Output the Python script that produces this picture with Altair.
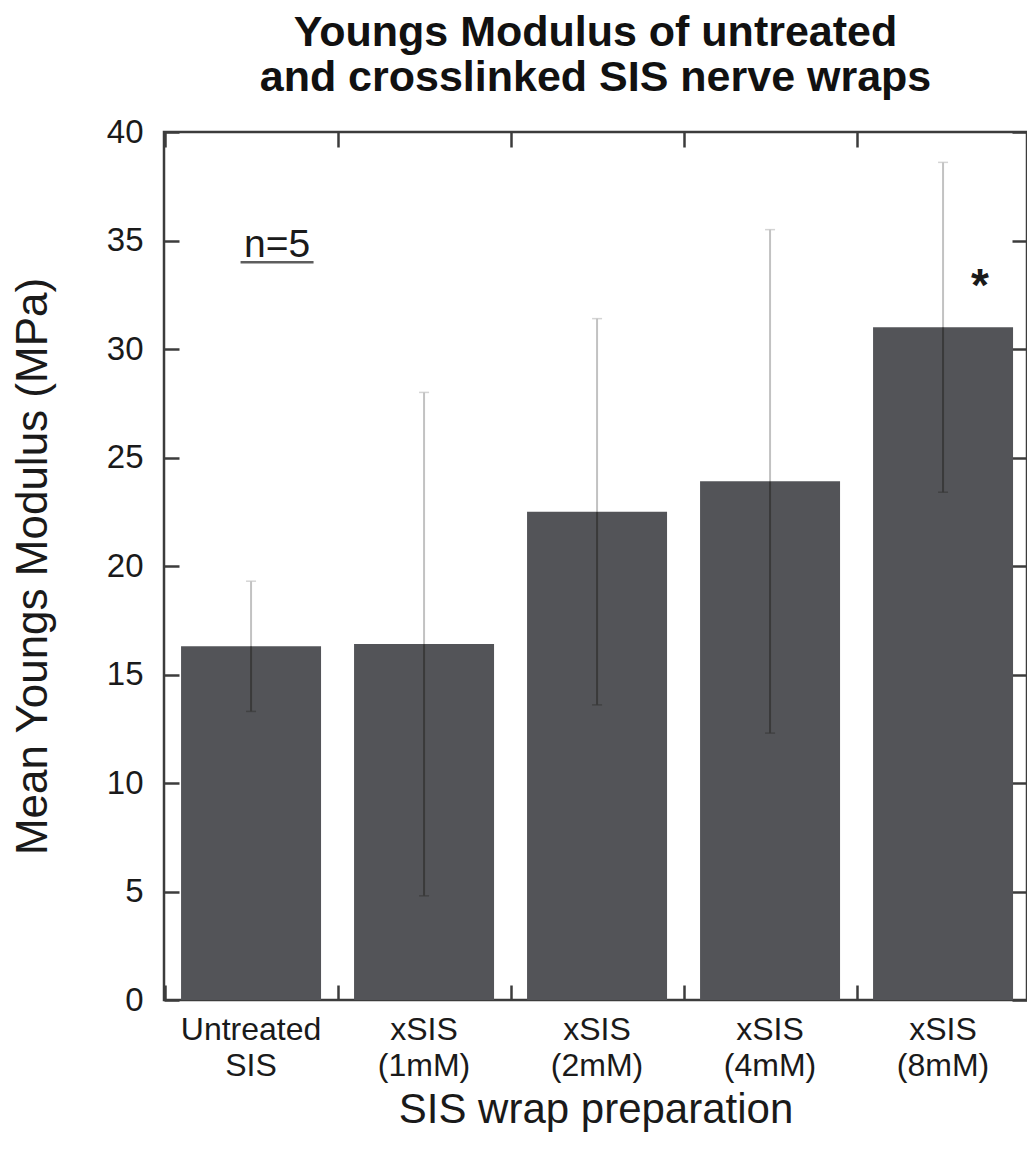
import altair as alt
import pandas as pd

# ---- data ----
categories = ["Untreated SIS", "xSIS (1mM)", "xSIS (2mM)", "xSIS (4mM)", "xSIS (8mM)"]
mean_modulus = [16.3, 16.4, 22.5, 23.9, 31.0]
sd_modulus = [3.0, 11.6, 8.9, 11.6, 7.6]
y_tick_values = [0, 5, 10, 15, 20, 25, 30, 35, 40]
n_label = "n=5"
n_label_y = 34.25
n_underline_y = 34.0
star_label = "*"
star_y = 32.2

W = 863
H = 868
P_IN = 0.1908
P_OUT = 0.0896
ALIGN = 0.55
STEP = W / (len(categories) - P_IN + 2 * P_OUT)
EDGE_SHIFT = -P_IN * STEP / 2   # moves band-start ticks to the middle of the gaps

FONT = "Liberation Sans"
TXT = "#1a1a1a"
FRAME = "#3c3c3c"
BAR = "#535458"
ERR_LIGHT = "#c2c2c2"
ERR_DARK = "#3a3a3a"

df = pd.DataFrame({"cat": categories, "mean": mean_modulus, "sd": sd_modulus})
df["low"] = df["mean"] - df["sd"]
df["high"] = df["mean"] + df["sd"]

x_scale = alt.Scale(domain=categories, paddingInner=P_IN, paddingOuter=P_OUT, align=ALIGN)
y_scale = alt.Scale(domain=[0, 40], nice=False, zero=True)


def x_tick_axis(orient):
    return alt.Axis(orient=orient, offset=-H, labels=False, ticks=True, tickSize=15,
                    tickWidth=2.5, tickColor=FRAME, domain=False, grid=False, title=None,
                    bandPosition=0, tickOffset=EDGE_SHIFT)


def y_tick_axis(orient):
    return alt.Axis(orient=orient, offset=-W, labels=False, ticks=True, tickSize=15,
                    tickWidth=2.5, tickColor=FRAME, domain=False, grid=False, title=None,
                    values=y_tick_values)


x_label_axis = alt.Axis(orient="bottom", ticks=False, domain=False, grid=False,
                        labelFont=FONT, labelFontSize=32, labelColor=TXT, labelAngle=0,
                        labelLineHeight=36, labelPadding=14, labelBaseline="top",
                        labelExpr="split(datum.label, ' ')",
                        title="SIS wrap preparation", titleFont=FONT, titleFontSize=42,
                        titleFontWeight="normal", titleColor=TXT,
                        titleBaseline="alphabetic", titleY=122, titleX=W / 2)

y_label_axis = alt.Axis(orient="left", ticks=False, domain=False, grid=False,
                        values=y_tick_values, labelFont=FONT, labelFontSize=33,
                        labelColor=TXT, labelPadding=21,
                        title="Mean Youngs Modulus (MPa)", titleFont=FONT, titleFontSize=44,
                        titleFontWeight="normal", titleColor=TXT, titleAngle=-90,
                        titleBaseline="bottom", titleX=-109, titleY=H / 2)

base = alt.Chart(df)

bars = base.mark_bar(color=BAR).encode(
    x=alt.X("cat:N", scale=x_scale, axis=x_label_axis, sort=categories),
    y=alt.Y("mean:Q", scale=y_scale, axis=y_label_axis),
)

err_up = base.mark_rule(color=ERR_LIGHT, strokeWidth=2).encode(
    x=alt.X("cat:N", scale=x_scale, axis=x_tick_axis("top"), sort=categories),
    y=alt.Y("mean:Q", scale=y_scale, axis=y_tick_axis("right")),
    y2="high:Q",
)

err_down = base.mark_rule(color=ERR_DARK, strokeWidth=2).encode(
    x=alt.X("cat:N", scale=x_scale, axis=x_tick_axis("bottom"), sort=categories),
    y=alt.Y("low:Q", scale=y_scale, axis=y_tick_axis("left")),
    y2="mean:Q",
)

cap_hi = base.mark_tick(color=ERR_LIGHT, size=10, thickness=1.5).encode(
    x=alt.X("cat:N", scale=x_scale, axis=None, sort=categories),
    y=alt.Y("high:Q", scale=y_scale, axis=None),
)

cap_lo = base.mark_tick(color=ERR_DARK, size=10, thickness=1.5).encode(
    x=alt.X("cat:N", scale=x_scale, axis=None, sort=categories),
    y=alt.Y("low:Q", scale=y_scale, axis=None),
)

ann_n = pd.DataFrame({"cat": [categories[0]], "y": [n_label_y], "u": [n_underline_y],
                      "label": [n_label]})
ann_star = pd.DataFrame({"cat": [categories[4]], "y": [star_y], "label": [star_label]})

n_text = alt.Chart(ann_n).mark_text(font=FONT, fontSize=39, color=TXT, dx=26,
                                    baseline="alphabetic").encode(
    x=alt.X("cat:N", scale=x_scale, axis=None, sort=categories),
    y=alt.Y("y:Q", scale=y_scale, axis=None),
    text="label:N",
)

n_line = alt.Chart(ann_n).mark_tick(color=TXT, size=73, thickness=2.5, xOffset=26).encode(
    x=alt.X("cat:N", scale=x_scale, axis=None, sort=categories),
    y=alt.Y("u:Q", scale=y_scale, axis=None),
)

star = alt.Chart(ann_star).mark_text(font=FONT, fontSize=46, fontWeight="bold", color=TXT,
                                     dx=37, baseline="alphabetic").encode(
    x=alt.X("cat:N", scale=x_scale, axis=None, sort=categories),
    y=alt.Y("y:Q", scale=y_scale, axis=None),
    text="label:N",
)

chart = alt.layer(bars, err_up, err_down, cap_hi, cap_lo, n_text, n_line, star).resolve_axis(
    x="independent", y="independent"
).properties(
    width=W,
    height=H,
    title=alt.TitleParams(["Youngs Modulus of untreated", "and crosslinked SIS nerve wraps"],
                          font=FONT, fontSize=43, fontWeight="bold", color="#111111",
                          anchor="middle", frame="group", lineHeight=45, offset=16),
    autosize=alt.AutoSizeParams(type="none"),
    padding={"left": 156, "top": 124, "right": 0, "bottom": 132},
).configure_view(
    stroke=FRAME, strokeWidth=2.5
)

chart.save("out.html", embed_options={"renderer": "svg", "actions": False})
